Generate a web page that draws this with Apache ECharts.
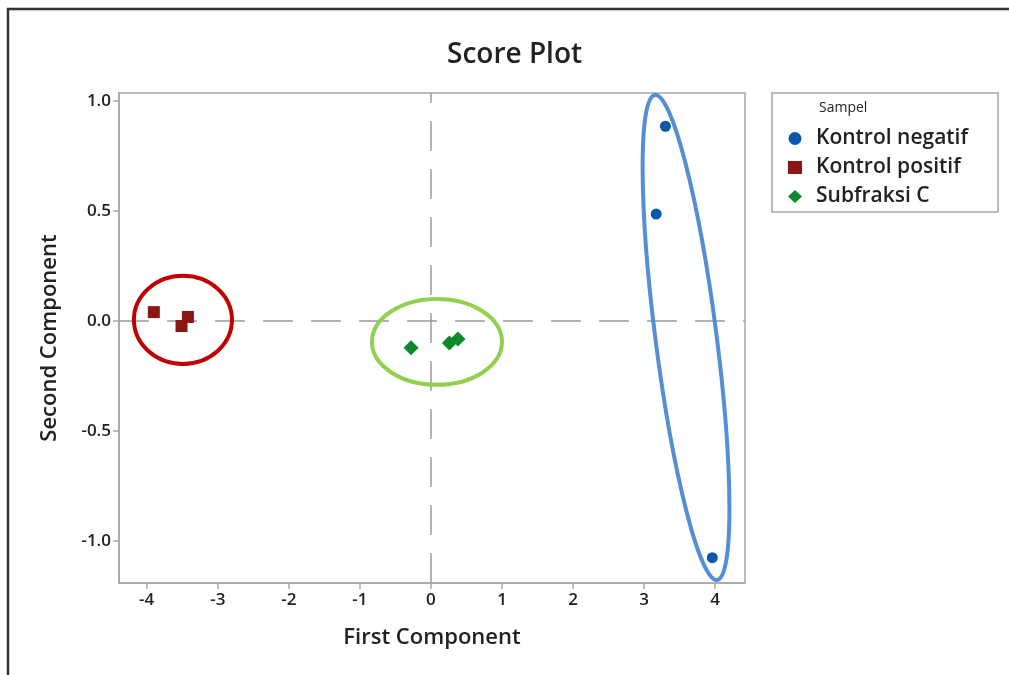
<!DOCTYPE html>
<html>
<head>
<meta charset="utf-8">
<script src="https://cdn.jsdelivr.net/npm/echarts@6/dist/echarts.min.js"></script>
<style>
    html, body { margin: 0; padding: 0; background: #fff; }
    #main { width: 1009px; height: 675px; }
</style>
</head>
<body>
<div id="main"></div>
<script>
// scores
const negX = [3.30, 3.17, 3.96];
const negY = [0.884, 0.485, -1.075];
const posX = [-3.90, -3.51, -3.42];
const posY = [0.040, -0.023, 0.018];
const subX = [-0.28, 0.26, 0.38];
const subY = [-0.122, -0.100, -0.082];

const xTicks = [-4, -3, -2, -1, 0, 1, 2, 3, 4];
const yTicks = [-1.0, -0.5, 0.0, 0.5, 1.0];

// hand-drawn group rings (centre, half-widths in data units, tilt in degrees)
const rings = [
    { id: 'ringPos', cx: -3.49, cy: 0.005, rx: 0.69, ry: 0.20, tilt: 0, color: '#c00000' },
    { id: 'ringSub', cx: 0.085, cy: -0.095, rx: 0.915, ry: 0.195, tilt: 0, color: '#92d050' },
    { id: 'ringNeg', cx: 3.59, cy: -0.075, rx: 0.43, ry: 1.11, tilt: 7.3, color: '#558ed5' }
];

const FONT = 'Open Sans';

function pairs(xs, ys) {
    return xs.map(function(x, i) { return [x, ys[i]]; });
}

let chart = echarts.init(document.getElementById('main'));

let axisText = { fontFamily: FONT, fontSize: 17, fontWeight: 600, color: '#222' };
let nameText = { fontFamily: FONT, fontSize: 22, fontWeight: 600, color: '#222' };

let option = {
    animation: false,
    backgroundColor: '#fff',
    title: {
        text: 'Score Plot',
        left: 442,
        top: 36,
        textStyle: { fontFamily: FONT, fontSize: 28, fontWeight: 600, color: '#222' }
    },
    grid: {
        left: 119, right: 264, top: 93, bottom: 92,
        show: true, borderColor: '#a6a6a6', borderWidth: 1.5
    },
    legend: {
        orient: 'vertical',
        left: 783,
        top: 123,
        itemWidth: 14,
        itemHeight: 13,
        itemGap: 8,
        textStyle: { fontFamily: FONT, fontSize: 21, fontWeight: 600, color: '#222', padding: [0, 0, 0, 9] },
        data: ['Kontrol negatif', 'Kontrol positif', 'Subfraksi C']
    },
    xAxis: {
        type: 'value',
        min: -4.39, max: 4.42,
        name: 'First Component',
        nameLocation: 'middle',
        nameGap: 44,
        nameTextStyle: nameText,
        axisLine: { show: true, onZero: false, lineStyle: { color: '#a6a6a6', width: 1.5 } },
        axisTick: { show: true, length: 6, customValues: xTicks, lineStyle: { color: '#a6a6a6', width: 1.5 } },
        axisLabel: Object.assign({ customValues: xTicks, margin: 9 }, axisText),
        splitLine: { show: false }
    },
    yAxis: {
        type: 'value',
        min: -1.19, max: 1.035,
        name: 'Second Component',
        nameLocation: 'middle',
        nameGap: 58,
        nameTextStyle: nameText,
        axisLine: { show: true, onZero: false, lineStyle: { color: '#a6a6a6', width: 1.5 } },
        axisTick: { show: true, length: 6, customValues: yTicks, lineStyle: { color: '#a6a6a6', width: 1.5 } },
        axisLabel: Object.assign({
            customValues: yTicks, margin: 8,
            formatter: function(v) { return v.toFixed(1); }
        }, axisText),
        splitLine: { show: false }
    },
    series: [
        {
            name: 'Kontrol negatif',
            type: 'scatter',
            symbol: 'circle',
            symbolSize: 11,
            itemStyle: { color: '#0b58a8', opacity: 1 },
            data: pairs(negX, negY),
            z: 3,
            markLine: {
                silent: true,
                symbol: 'none',
                label: { show: false },
                lineStyle: { color: '#9a9a9a', width: 1.5, type: [30, 18] },
                data: [{ xAxis: 0 }, { yAxis: 0 }],
                z: 1
            }
        },
        {
            name: 'Kontrol positif',
            type: 'scatter',
            symbol: 'rect',
            symbolSize: 12,
            itemStyle: { color: '#8c1616', opacity: 1 },
            data: pairs(posX, posY),
            z: 3
        },
        {
            name: 'Subfraksi C',
            type: 'scatter',
            symbol: 'diamond',
            symbolSize: 15,
            itemStyle: { color: '#0b8a2c', opacity: 1 },
            data: pairs(subX, subY),
            z: 3
        }
    ],
    graphic: [
        // outer frame (top and left edges only are visible)
        { id: 'frameTop', type: 'line', shape: { x1: 7, y1: 9, x2: 1009, y2: 9 },
          style: { stroke: '#333', lineWidth: 2.5 }, z: 10 },
        { id: 'frameLeft', type: 'line', shape: { x1: 8, y1: 8, x2: 8, y2: 675 },
          style: { stroke: '#333', lineWidth: 2.5 }, z: 10 },
        // legend box and its heading
        { id: 'legendBox', type: 'rect', shape: { x: 772, y: 93, width: 226, height: 119 },
          style: { fill: 'none', stroke: '#a6a6a6', lineWidth: 1.5 }, z: 0 },
        { id: 'legendHead', type: 'text', x: 819, y: 101,
          style: { text: 'Sampel', fontFamily: FONT, fontSize: 14, fill: '#222' }, z: 5 }
    ]
};

chart.setOption(option);

// rings go through the grid's own scales
let ringGraphics = rings.map(function(r) {
    let c = chart.convertToPixel({ gridIndex: 0 }, [r.cx, r.cy]);
    let ex = chart.convertToPixel({ gridIndex: 0 }, [r.cx + r.rx, r.cy]);
    let ey = chart.convertToPixel({ gridIndex: 0 }, [r.cx, r.cy + r.ry]);
    return {
        id: r.id,
        type: 'ellipse',
        x: c[0],
        y: c[1],
        rotation: r.tilt * Math.PI / 180,
        shape: { cx: 0, cy: 0, rx: Math.abs(ex[0] - c[0]), ry: Math.abs(ey[1] - c[1]) },
        style: { fill: 'none', stroke: r.color, lineWidth: 4 },
        z: 2
    };
});

chart.setOption({ graphic: ringGraphics });
</script>
</body>
</html>
